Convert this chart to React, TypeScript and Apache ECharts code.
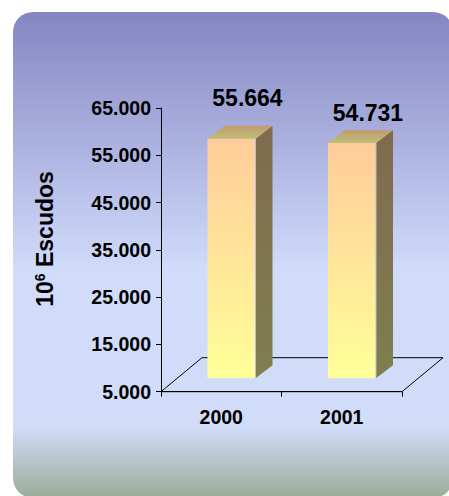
import React, { useEffect, useRef } from "react";
import * as echarts from "echarts";

const CATEGORIES = ["2000", "2001"];
const VALUES = [55664, 54731];
const Y_MIN = 5000;
const Y_MAX = 65000;
const Y_INTERVAL = 10000;
const Y_TICKS = [5000, 15000, 25000, 35000, 45000, 55000, 65000];
const Y_NAME_PARTS = ["10", "6", " Escudos"];

// styling / layout constants (not data)
const LABEL_DY = [-41, -30];
const LABEL_DX = 16;
const BAR_SHIFT_X = 10.25;
const BAR_SHIFT_Y = -13.5;
const BAR_W = 48;
const SIDE_DX = 17;
const SIDE_DY = -13;
const FLOOR_DX = 41;
const FLOOR_DY = -34;
const FONT = "'Liberation Sans', Arial, Helvetica, sans-serif";

const fmt = (v: number) => String(v).replace(/\B(?=(\d{3})+(?!\d))/g, ".");

export default function App() {
  const ref = useRef<HTMLDivElement>(null);
  useEffect(() => {
    if (!ref.current) return;
    const chart = echarts.init(ref.current, null, { renderer: "svg" });
    const grad = (c0: string, c1: string) =>
      new echarts.graphic.LinearGradient(0, 0, 0, 1, [
        { offset: 0, color: c0 },
        { offset: 1, color: c1 },
      ]);
    chart.setOption({
      animation: false,
      graphic: [
        {
          type: "rect",
          z: -10,
          zlevel: 0,
          silent: true,
          shape: { x: 13, y: 12, width: 440, height: 486, r: 20 },
          style: {
            fill: new echarts.graphic.LinearGradient(0, 0, 0, 1, [
              { offset: 0, color: "#8585c3" },
              { offset: 0.53, color: "#d0dcfa" },
              { offset: 0.855, color: "#d0dcf8" },
              { offset: 1, color: "#9aac98" },
            ]),
          },
        },
        {
          type: "text",
          x: 45,
          y: 239,
          rotation: Math.PI / 2,
          silent: true,
          style: {
            text: `{a|${Y_NAME_PARTS[0]}}{sup|${Y_NAME_PARTS[1]}}{a|${Y_NAME_PARTS[2]}}`,
            align: "center",
            verticalAlign: "middle",
            fill: "#000",
            fontSize: 23,
            fontWeight: "bold",
            fontFamily: FONT,
            rich: {
              a: { fontSize: 23, fontWeight: "bold", fontFamily: FONT, fill: "#000" },
              sup: {
                fontSize: 14,
                fontWeight: "bold",
                fontFamily: FONT,
                fill: "#000",
                verticalAlign: "top",
                padding: [0, 0, 10, 0],
              },
            },
          },
        },
      ],
      grid: { left: 161, right: 47, top: 108, bottom: 104.3, containLabel: false },
      xAxis: {
        type: "category",
        data: CATEGORIES,
        axisLine: { show: true, lineStyle: { color: "#000", width: 1 } },
        axisTick: { show: true, length: 5, interval: 0, alignWithLabel: false, lineStyle: { color: "#000" } },
        axisLabel: {
          margin: 15,
          color: "#000",
          fontSize: 19.5,
          fontWeight: "bold",
          fontFamily: FONT,
        },
      },
      yAxis: {
        type: "value",
        min: Y_MIN,
        max: Y_MAX,
        interval: Y_INTERVAL,
        splitLine: { show: false },
        axisLine: { show: true, lineStyle: { color: "#000", width: 1 } },
        axisTick: { show: true, length: 5, inside: false, customValues: Y_TICKS, lineStyle: { color: "#000" } },
        axisLabel: {
          customValues: Y_TICKS,
          margin: 10,
          color: "#000",
          fontSize: 19.5,
          fontWeight: "bold",
          fontFamily: FONT,
          formatter: (v: number) => fmt(v),
        },
      },
      series: [
        {
          type: "custom",
          z: 1,
          clip: false,
          silent: true,
          data: [[0, Y_MIN]],
          encode: { x: 0, y: 1 },
          renderItem: (params: any, api: any) => {
            const p = api.coord([0, Y_MIN]);
            const band = api.size([1, 0])[0];
            const left = p[0] - band / 2;
            const right = left + band * CATEGORIES.length;
            const y = p[1];
            return {
              type: "polygon",
              shape: {
                points: [
                  [left, y],
                  [right, y],
                  [right + FLOOR_DX, y + FLOOR_DY],
                  [left + FLOOR_DX, y + FLOOR_DY],
                ],
              },
              style: { fill: "none", stroke: "#000", lineWidth: 1 },
            };
          },
        },
        {
          type: "custom",
          z: 3,
          clip: false,
          silent: true,
          data: VALUES.map((v, i) => [i, v]),
          encode: { x: 0, y: 1 },
          renderItem: (params: any, api: any) => {
            const i = api.value(0);
            const v = api.value(1);
            const base = api.coord([i, Y_MIN]);
            const top = api.coord([i, v]);
            const x0 = base[0] + BAR_SHIFT_X - BAR_W / 2;
            const x1 = x0 + BAR_W;
            const yb = base[1] + BAR_SHIFT_Y;
            const yt = top[1] + BAR_SHIFT_Y;
            const idx = params.dataIndex;
            return {
              type: "group",
              children: [
                {
                  type: "polygon",
                  shape: {
                    points: [
                      [x1, yt],
                      [x1 + SIDE_DX, yt + SIDE_DY],
                      [x1 + SIDE_DX, yb + SIDE_DY],
                      [x1, yb],
                    ],
                  },
                  style: { fill: grad("#806a4e", "#7f7f4f"), stroke: "none" },
                },
                {
                  type: "polygon",
                  shape: {
                    points: [
                      [x0, yt],
                      [x0 + SIDE_DX, yt + SIDE_DY],
                      [x1 + SIDE_DX, yt + SIDE_DY],
                      [x1, yt],
                    ],
                  },
                  style: { fill: grad("#c49a72", "#bcbf74"), stroke: "none" },
                },
                {
                  type: "rect",
                  shape: { x: x0, y: yt, width: BAR_W, height: yb - yt },
                  style: { fill: grad("#ffcc99", "#ffff99"), stroke: "none" },
                },
                {
                  type: "line",
                  shape: { x1: x1, y1: yt, x2: x1, y2: yb },
                  style: { stroke: "#b8bedd", lineWidth: 1 },
                },
                {
                  type: "text",
                  style: {
                    text: fmt(v),
                    x: (x0 + x1) / 2 + LABEL_DX,
                    y: yt + LABEL_DY[idx],
                    align: "center",
                    verticalAlign: "middle",
                    fontSize: 23,
                    fontWeight: "bold",
                    fontFamily: FONT,
                    fill: "#000",
                  },
                },
              ],
            };
          },
        },
      ],
    });
    return () => chart.dispose();
  }, []);
  return (
    <div
      ref={ref}
      style={{ position: "absolute", left: 0, top: 0, width: 449, height: 496 }}
    />
  );
}
